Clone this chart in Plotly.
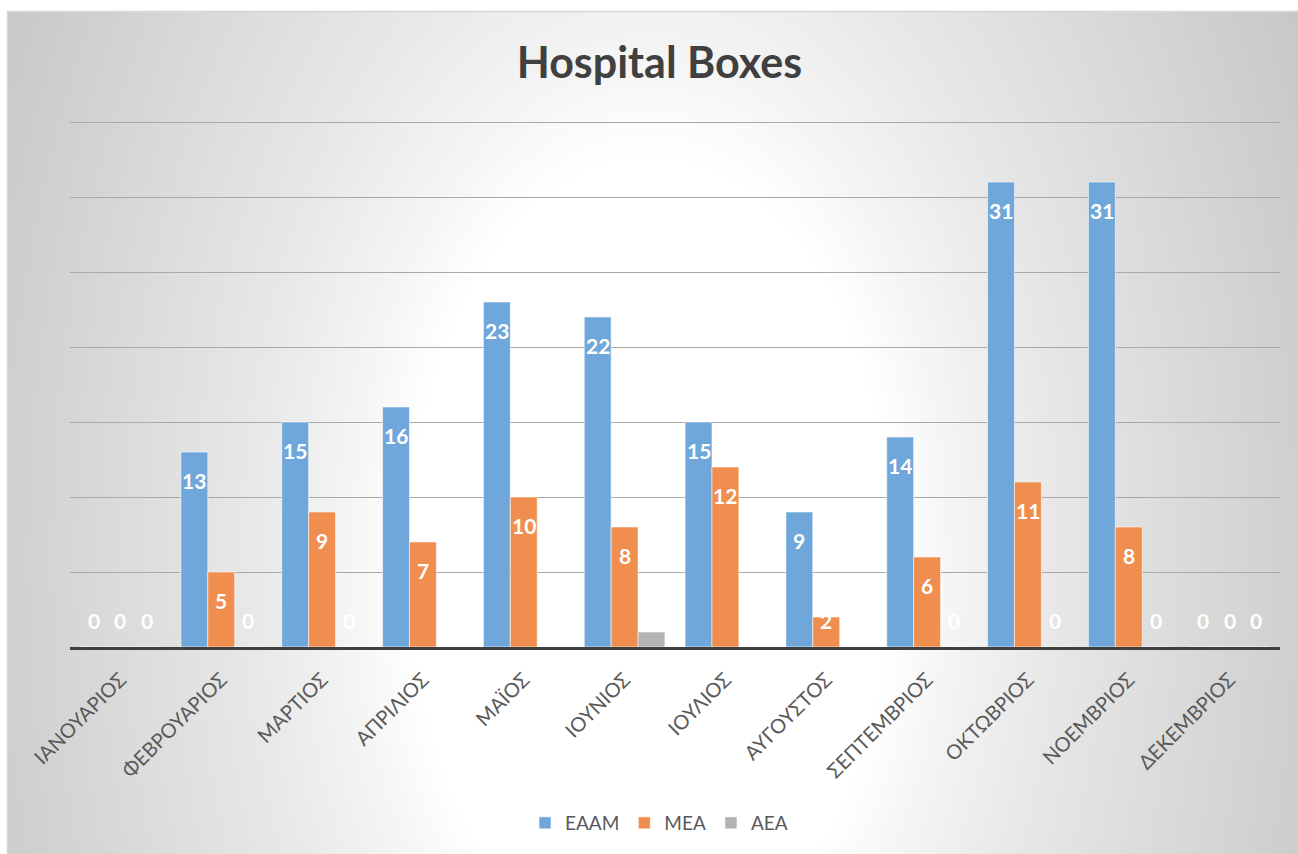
import base64
import plotly.graph_objects as go

# Monthly counts per hospital unit
months = ["ΙΑΝΟΥΆΡΙΟΣ", "ΦΕΒΡΟΥΆΡΙΟΣ", "ΜΆΡΤΙΟΣ", "ΑΠΡΊΛΙΟΣ", "ΜΑΪΟΣ", "ΙΟΎΝΙΟΣ",
          "ΙΟΎΛΙΟΣ", "ΑΎΓΟΥΣΤΟΣ", "ΣΕΠΤΈΜΒΡΙΟΣ", "ΟΚΤΏΒΡΙΟΣ", "ΝΟΈΜΒΡΙΟΣ", "ΔΕΚΈΜΒΡΙΟΣ"]
eaam = [0, 13, 15, 16, 23, 22, 15, 9, 14, 31, 31, 0]
mea = [0, 5, 9, 7, 10, 8, 12, 2, 6, 11, 8, 0]
aea = [0, 0, 0, 0, 0, 1, 0, 0, 0, 0, 0, 0]

series = [
    ("ΕΑΑΜ", eaam, "#6fa7da"),
    ("ΜΕΑ", mea, "#ef8e4f"),
    ("ΑΕΑ", aea, "#b3b3b3"),
]

W, H = 1298, 854
ML, MR, MT, MB = 70, 18, 121, 207
YMAX = 35.07
BARGAP = 0.2
FONT = "Lato, 'Open Sans', 'Noto Sans', sans-serif"
pw, ph = W - ML - MR, H - MT - MB
px_per_unit = ph / YMAX

fig = go.Figure()
for name, vals, color in series:
    fig.add_trace(go.Bar(
        name=name, x=months, y=vals,
        marker=dict(color=color, line=dict(color="rgba(255,255,255,0.55)", width=1)),
    ))

# Value labels at the inside end of each bar (short bars keep the label above the base)
bar_px = pw / len(months) * (1 - BARGAP) / len(series)
annotations = []
for k, (name, vals, color) in enumerate(series):
    for m, v in zip(months, vals):
        inside = v * px_per_unit >= 55
        annotations.append(dict(
            x=m, y=v if inside else 0, xref="x", yref="y",
            text=str(v), showarrow=False, yanchor="middle",
            xshift=(k - 1) * bar_px, yshift=-28 if inside else 27,
            font=dict(family=FONT, size=21, color="white", weight="bold"),
        ))

# Elliptical radial gradient backdrop for the whole chart area
svg = f"""<svg xmlns='http://www.w3.org/2000/svg' width='{W}' height='{H}'>
<defs><radialGradient id='g' gradientUnits='userSpaceOnUse' cx='650' cy='560' r='800'
 gradientTransform='translate(650,560) scale(1,1.667) translate(-650,-560)'>
<stop offset='0' stop-color='#ffffff'/>
<stop offset='0.3' stop-color='#ffffff'/>
<stop offset='0.375' stop-color='#f5f5f5'/>
<stop offset='0.5' stop-color='#e8e8e8'/>
<stop offset='0.7' stop-color='#d8d8d8'/>
<stop offset='0.9' stop-color='#c8c8c8'/>
<stop offset='1' stop-color='#c2c2c2'/>
</radialGradient></defs>
<rect x='7.5' y='11.5' width='{W}' height='{H}' fill='url(#g)' stroke='#d6d6d6' stroke-width='1.5'/>
</svg>"""
src = "data:image/svg+xml;base64," + base64.b64encode(svg.encode()).decode()

fig.update_layout(
    width=W, height=H,
    margin=dict(l=ML, r=MR, t=MT, b=MB),
    paper_bgcolor="white", plot_bgcolor="rgba(0,0,0,0)",
    barmode="group", bargap=BARGAP, bargroupgap=0,
    font=dict(family=FONT, color="#595959"),
    title=dict(text="<b>Hospital Boxes</b>", x=0.508, xanchor="center",
               y=1 - 63 / H, yanchor="middle", yref="container",
               font=dict(family=FONT, size=43, color="#404040")),
    legend=dict(orientation="h", x=0.5 - 16 / pw, xanchor="center", y=(H - 823 - MB) / ph,
                yanchor="middle", font=dict(size=19, color="#595959"),
                itemwidth=30, traceorder="normal", bgcolor="rgba(0,0,0,0)"),
    images=[dict(source=src, xref="paper", yref="paper", x=-ML / pw, y=1 + MT / ph,
                 sizex=W / pw, sizey=H / ph, xanchor="left", yanchor="top",
                 sizing="stretch", layer="below")],
    annotations=annotations,
    showlegend=True,
)
fig.update_xaxes(tickangle=-45, tickfont=dict(size=20, color="#595959"),
                 showline=True, linecolor="#404040", linewidth=3, ticks="",
                 showgrid=False, ticklabelstandoff=10)
fig.update_yaxes(range=[0, YMAX], dtick=5, showticklabels=False, gridcolor="#a9a9a9",
                 gridwidth=1, zeroline=False, showline=False, ticks="")

fig.write_html("out.html")
